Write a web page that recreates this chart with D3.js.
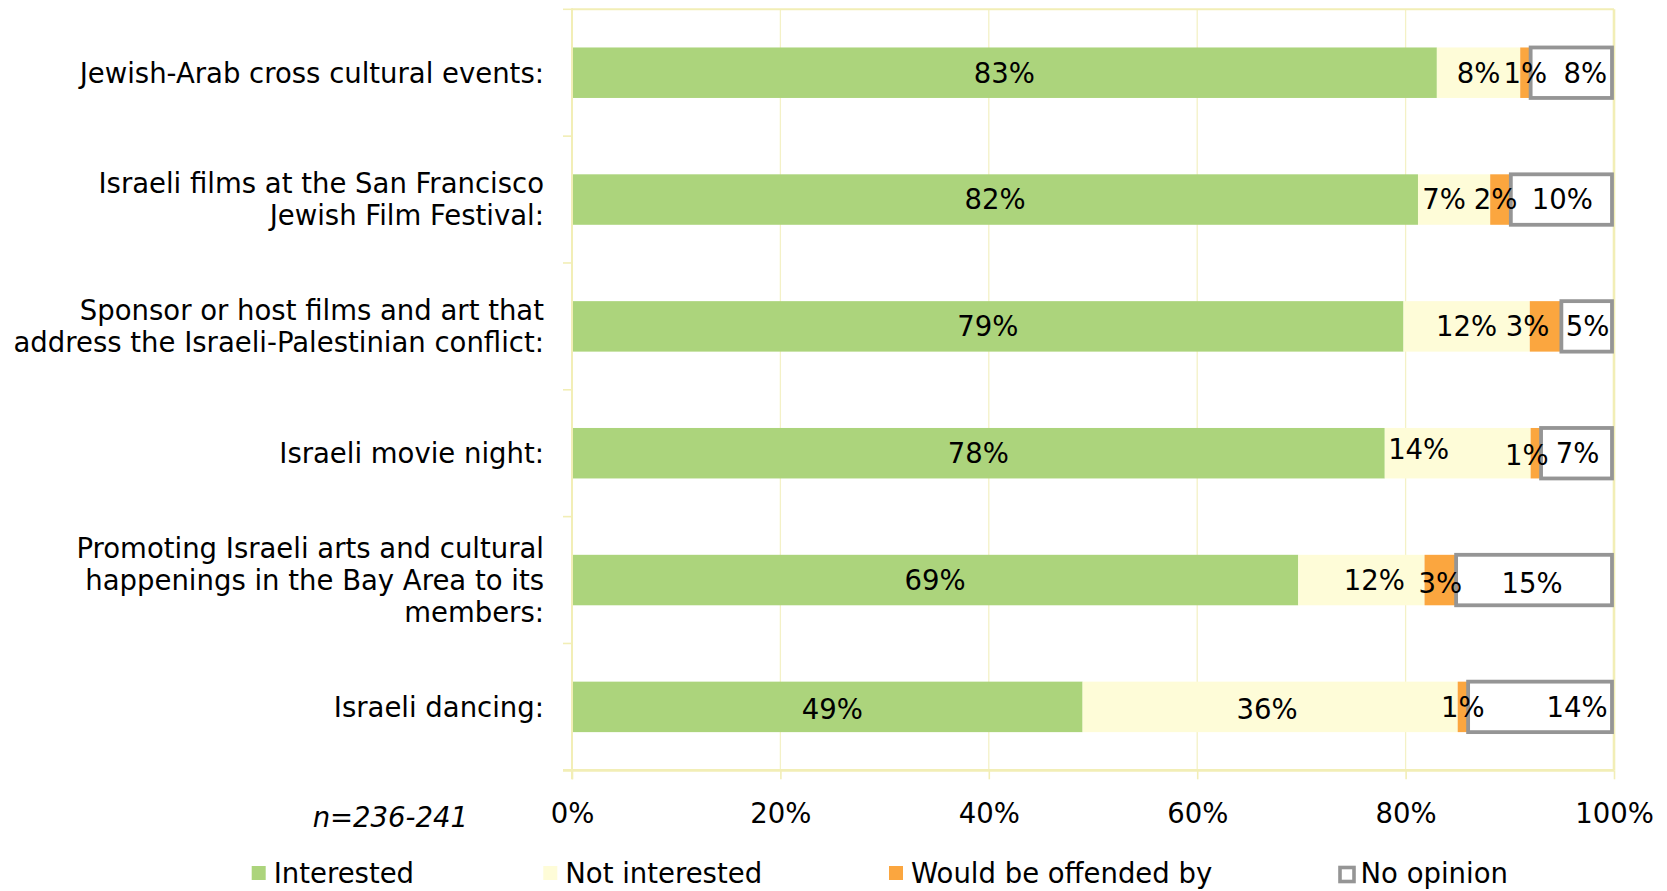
<!DOCTYPE html>
<html>
<head>
<meta charset="utf-8">
<script src="https://cdn.jsdelivr.net/npm/d3@7"></script>
<style>
  html, body { margin: 0; padding: 0; background: #ffffff; }
  svg { display: block; }
  text { font-family: Verdana, "DejaVu Sans", sans-serif; fill: #000; }
</style>
</head>
<body>
<svg id="chart" width="1667" height="891"></svg>
<script>
// ---------------- data ----------------
const categories = [
  "Jewish-Arab cross cultural events:",
  "Israeli films at the San Francisco Jewish Film Festival:",
  "Sponsor or host films and art that address the Israeli-Palestinian conflict:",
  "Israeli movie night:",
  "Promoting Israeli arts and cultural happenings in the Bay Area to its members:",
  "Israeli dancing:"
];
const categoryLines = [
  ["Jewish-Arab cross cultural events:"],
  ["Israeli films at the San Francisco", "Jewish Film Festival:"],
  ["Sponsor or host films and art that", "address the Israeli-Palestinian conflict:"],
  ["Israeli movie night:"],
  ["Promoting Israeli arts and cultural", "happenings in the Bay Area to its", "members:"],
  ["Israeli dancing:"]
];
const seriesNames = ["Interested", "Not interested", "Would be offended by", "No opinion"];
const interested    = [83, 82, 79, 78, 69, 49];
const notInterested = [8, 7, 12, 14, 12, 36];
const offended      = [1, 2, 3, 1, 3, 1];
const noOpinion     = [8, 10, 5, 7, 15, 14];
const xTickValues   = [0, 20, 40, 60, 80, 100];
const sampleNote    = "n=236-241";

// ---------------- styles ----------------
const colors = ["#acd47c", "#fefcd8", "#fba63f", "#ffffff"];
const noOpinionStroke = "#959595";
const gridColor = "#f4f1c6";
const frameColor = "#f2eeb6";
const fontSize = 27.5;

// label nudges (pixels) for hand-placed data labels [series-category] -> [dx, dy]
const nudges = {
  "0-5": [5, 2],
  "1-1": [-10, 0], "1-3": [-39, -4], "1-4": [13, 0], "1-5": [-3, 2],
  "2-1": [-5, 0], "2-2": [-18, 0], "2-3": [-9, 2], "2-4": [0, 3],
  "3-0": [13, 0], "3-4": [-3, 3], "3-5": [36, 0]
};

// ---------------- build ----------------
const rows = categories.map((c, i) => ({
  cat: c,
  "Interested": interested[i],
  "Not interested": notInterested[i],
  "Would be offended by": offended[i],
  "No opinion": noOpinion[i]
}));

const stack = d3.stack().keys(seriesNames).offset(d3.stackOffsetExpand);
const series = stack(rows);

const plotLeft = 572, plotRight = 1614, plotTop = 9.3, plotBottom = 770.3;
const x = d3.scaleLinear().domain([0, 1]).range([plotLeft, plotRight]);
const y = d3.scaleBand().domain(categories).range([plotTop, plotBottom])
  .paddingInner(0.602).paddingOuter(0.301);

const svg = d3.select("#chart");

// vertical gridlines
svg.append("g").selectAll("line")
  .data(xTickValues.slice(1, -1))
  .join("line")
  .attr("x1", d => x(d / 100)).attr("x2", d => x(d / 100))
  .attr("y1", plotTop).attr("y2", plotBottom)
  .attr("stroke", gridColor).attr("stroke-width", 1.3);

// frame: top and right edges
svg.append("line").attr("x1", plotLeft).attr("x2", plotRight).attr("y1", plotTop).attr("y2", plotTop)
  .attr("stroke", frameColor).attr("stroke-width", 2);
svg.append("line").attr("x1", plotRight).attr("x2", plotRight).attr("y1", plotTop).attr("y2", plotBottom)
  .attr("stroke", frameColor).attr("stroke-width", 2.6);

// bars
const step = y.step();
const gBars = svg.append("g");
series.forEach((s, si) => {
  gBars.selectAll(null)
    .data(s.map((d, ci) => ({ d, ci })))
    .join("rect")
    .attr("x", o => x(o.d[0]))
    .attr("y", o => y(categories[o.ci]))
    .attr("width", o => Math.max(0, x(o.d[1]) - x(o.d[0]) - (si === 3 ? 2 : 0)))
    .attr("height", y.bandwidth())
    .attr("fill", colors[si])
    .attr("stroke", si === 3 ? noOpinionStroke : "none")
    .attr("stroke-width", si === 3 ? 3.8 : 0);
});

// data labels
const rawSeries = [interested, notInterested, offended, noOpinion];
const gLabels = svg.append("g");
series.forEach((s, si) => {
  gLabels.selectAll(null)
    .data(s.map((d, ci) => ({ d, ci })))
    .join("text")
    .attr("x", o => (x(o.d[0]) + x(o.d[1])) / 2 + ((nudges[si + "-" + o.ci] || [0, 0])[0]))
    .attr("y", o => y(categories[o.ci]) + y.bandwidth() / 2 + ((nudges[si + "-" + o.ci] || [0, 0])[1]))
    .attr("dy", "0.36em")
    .attr("text-anchor", "middle")
    .style("font-size", fontSize + "px")
    .text(o => rawSeries[si][o.ci] + "%");
});

// left axis line and band-boundary ticks
svg.append("line").attr("x1", plotLeft).attr("x2", plotLeft).attr("y1", plotTop - 1).attr("y2", plotBottom + 9)
  .attr("stroke", frameColor).attr("stroke-width", 2);
const boundaries = categories.map(c => y(c) - (step - y.bandwidth()) / 2).concat([plotBottom]);
svg.append("g").selectAll("line").data(boundaries).join("line")
  .attr("x1", plotLeft - 9).attr("x2", plotLeft)
  .attr("y1", d => d).attr("y2", d => d)
  .attr("stroke", frameColor).attr("stroke-width", 1.6);

// bottom axis
const xAxis = d3.axisBottom(x)
  .tickValues(xTickValues.map(v => v / 100))
  .tickFormat(d => Math.round(d * 100) + "%")
  .tickSize(9).tickPadding(24);
const gx = svg.append("g").attr("transform", `translate(0,${plotBottom})`).call(xAxis);
gx.select(".domain").attr("stroke", frameColor).attr("stroke-width", 2.7)
  .attr("d", `M${plotLeft - 9},0H${plotRight}`);
gx.selectAll(".tick line").attr("stroke", frameColor).attr("stroke-width", 1.6);
gx.selectAll(".tick text")
  .style("font-size", fontSize + "px")
  .style("font-family", "Verdana, 'DejaVu Sans', sans-serif")
  .attr("fill", "#000");

// sample-size note
svg.append("text")
  .attr("x", 468).attr("y", 827)
  .attr("text-anchor", "end")
  .style("font-size", fontSize + "px")
  .style("font-style", "italic")
  .text(sampleNote);

// category labels
const gCats = svg.append("g");
categories.forEach((c, i) => {
  const lines = categoryLines[i];
  const cy = y(c) + y.bandwidth() / 2;
  const t = gCats.append("text")
    .attr("text-anchor", "end")
    .style("font-size", fontSize + "px");
  lines.forEach((ln, li) => {
    t.append("tspan")
      .attr("x", 544)
      .attr("y", cy + (li - (lines.length - 1) / 2) * 32)
      .attr("dy", "0.36em")
      .text(ln);
  });
});

// legend
const legendX = [251.7, 543.3, 889, 1338.5];
const gLeg = svg.append("g");
seriesNames.forEach((name, i) => {
  const g = gLeg.append("g").attr("transform", `translate(${legendX[i]},866)`);
  if (i === 3) {
    g.append("rect").attr("x", 1.5).attr("y", 1.5).attr("width", 14).attr("height", 14)
      .attr("fill", "#fff").attr("stroke", noOpinionStroke).attr("stroke-width", 3.6);
  } else {
    g.append("rect").attr("width", 14).attr("height", 14).attr("fill", colors[i]);
  }
  g.append("text")
    .attr("x", 22).attr("y", 17)
    .style("font-size", fontSize + "px")
    .text(name);
});
</script>
</body>
</html>
